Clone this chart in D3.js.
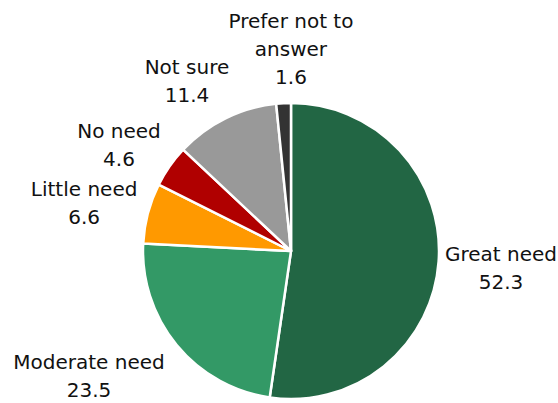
<!DOCTYPE html>
<html>
<head>
<meta charset="utf-8">
<script src="https://cdn.jsdelivr.net/npm/d3@7/dist/d3.min.js"></script>
<style>
  html, body { margin: 0; padding: 0; background: #fff; }
  svg { display: block; }
  text { font-family: "DejaVu Sans", Verdana, sans-serif; fill: #111; }
</style>
</head>
<body>
<svg id="chart" width="558" height="403"></svg>
<script>
// Survey responses (percent of respondents)
const categories = ["Great need", "Moderate need", "Little need", "No need", "Not sure", "Prefer not to answer"];
const values = [52.3, 23.5, 6.6, 4.6, 11.4, 1.6];
const labelLines = [["Great need"], ["Moderate need"], ["Little need"], ["No need"], ["Not sure"], ["Prefer not to", "answer"]];
const colors = ["#226644", "#339966", "#FF9900", "#B00000", "#999999", "#333333"];

// Label nudges from the mid-angle anchor point
const labelNudge = [[10.5, -4], [-47.5, -9], [-13.5, -4], [-8, 1], [-15.5, 2], [10, -23.5]];

const width = 558, height = 403;
const cx = 291, cy = 251, radius = 148;
const anchorRadius = 200;
const lineHeight = 28;

const svg = d3.select("#chart");
const g = svg.append("g").attr("transform", `translate(${cx},${cy})`);

const data = categories.map((c, i) => ({ category: c, value: values[i], lines: labelLines[i], color: colors[i], nudge: labelNudge[i] }));

const pie = d3.pie().value(d => d.value).sort(null);
const arc = d3.arc().innerRadius(0).outerRadius(radius);
const arcs = pie(data);

g.selectAll("path.slice")
  .data(arcs)
  .join("path")
  .attr("class", "slice")
  .attr("d", arc)
  .attr("fill", d => d.data.color)
  .attr("stroke", "#fff")
  .attr("stroke-width", 2.5)
  .attr("stroke-linejoin", "round");

g.selectAll("text.label")
  .data(arcs)
  .join("text")
  .attr("class", "label")
  .attr("text-anchor", "middle")
  .attr("font-size", 20)
  .each(function(d) {
    const mid = (d.startAngle + d.endAngle) / 2;
    const ax = anchorRadius * Math.sin(mid) + d.data.nudge[0];
    const ay = -anchorRadius * Math.cos(mid) + d.data.nudge[1];
    const t = d3.select(this);
    const lines = d.data.lines.concat([d3.format(".1f")(d.data.value)]);
    lines.forEach((line, i) => {
      t.append("tspan").attr("x", ax).attr("y", ay + i * lineHeight).text(line);
    });
  });
</script>
</body>
</html>
